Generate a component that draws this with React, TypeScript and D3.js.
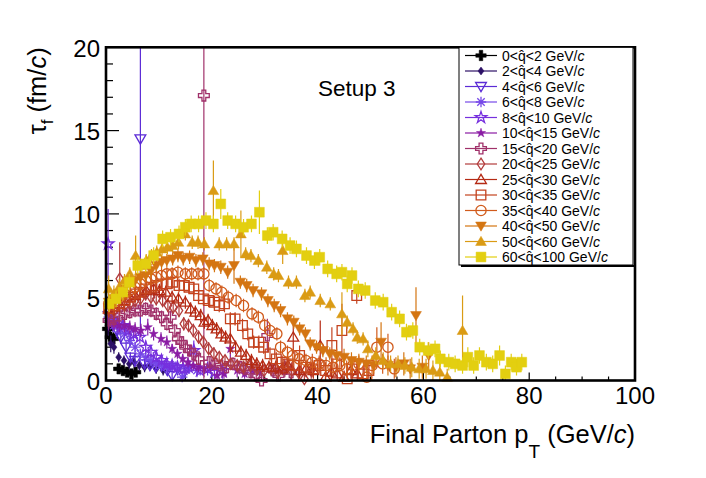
import * as d3 from 'd3'

// [pT (GeV/c), tau_f (fm/c), error]
type Pt = [number, number, number]

const q0_2: Pt[] = [
  [0.3, 3.1, 0.5], [0.8, 2.6, 0.4], [1.4, 2.5, 0.4], [2.4, 0.7, 0.2], [3.2, 0.6, 0.2],
  [4.0, 0.5, 0.2], [4.8, 0.4, 0.2], [5.6, 0.5, 0.2],
]

const q2_4: Pt[] = [
  [0.4, 3.3, 0.6], [0.9, 2.2, 0.5], [1.5, 2.0, 0.4], [2.4, 1.4, 0.3], [3.4, 1.2, 0.3],
  [4.4, 1.0, 0.3], [5.3, 1.1, 0.3], [6.3, 0.9, 0.3], [7.3, 0.8, 0.3], [8.4, 0.9, 0.3],
  [9.5, 0.7, 0.3], [10.8, 0.6, 0.3],
]

const q4_6: Pt[] = [
  [0.5, 3.9, 0.6], [1.3, 3.4, 0.5], [2.1, 3.0, 0.5], [2.8, 2.6, 0.4], [3.8, 2.0, 0.4],
  [4.6, 1.4, 0.3], [5.5, 1.2, 0.4], [6.5, 14.5, 11.9], [7.3, 1.0, 0.3], [8.3, 0.9, 0.3],
  [9.4, 0.8, 0.3], [10.5, 0.9, 0.4], [11.6, 0.6, 0.3], [12.5, 0.3, 0.3], [13.5, 0.7, 0.4],
  [14.8, 0.5, 0.3],
]

const q6_8: Pt[] = [
  [0.5, 3.8, 0.5], [1.5, 3.3, 0.4], [2.5, 3.1, 0.4], [3.5, 2.8, 0.4], [4.5, 2.4, 0.4],
  [5.5, 2.0, 0.3], [6.5, 1.6, 0.3], [7.5, 1.4, 0.3], [8.5, 1.2, 0.3], [9.5, 1.0, 0.3],
  [10.5, 0.9, 0.3], [11.5, 0.8, 0.3], [12.5, 0.9, 0.3], [13.5, 0.7, 0.3], [14.4, 0.2, 0.3],
  [15.8, 0.8, 0.4], [17.2, 0.6, 0.4],
]

const q8_10: Pt[] = [
  [0.4, 8.2, 2.1], [1.3, 3.6, 0.5], [2.2, 3.4, 0.5], [3.2, 3.3, 0.4], [4.2, 3.0, 0.4],
  [5.2, 2.8, 0.4], [6.4, 2.6, 0.4], [7.5, 2.0, 0.4], [8.5, 1.7, 0.3], [9.5, 1.4, 0.3],
  [10.5, 1.2, 0.3], [11.5, 1.0, 0.3], [12.5, 0.9, 0.3], [13.5, 0.8, 0.3], [14.6, 0.7, 0.3],
  [15.6, 0.8, 0.4], [16.6, 1.8, 0.6], [17.8, 0.6, 0.3], [19.2, 0.7, 0.4], [20.5, 0.5, 0.4],
  [22.0, 0.6, 0.5],
]

const q10_15: Pt[] = [
  [0.5, 3.5, 0.5], [1.5, 3.4, 0.4], [2.5, 3.3, 0.4], [3.5, 3.3, 0.4], [4.5, 3.2, 0.4],
  [5.5, 3.1, 0.4], [6.6, 3.0, 0.4], [7.9, 3.2, 0.5], [9.0, 2.8, 0.4], [10.4, 2.5, 0.4],
  [11.5, 2.3, 0.4], [12.5, 1.9, 0.3], [13.5, 1.6, 0.3], [14.5, 1.3, 0.3], [15.5, 1.1, 0.3],
  [16.5, 0.9, 0.3], [17.5, 0.8, 0.3], [18.6, 0.7, 0.3], [19.8, 0.8, 0.3], [21.0, 0.3, 0.3],
  [22.3, 0.4, 0.3], [23.5, 1.9, 0.8], [24.8, 0.6, 0.4], [26.2, 0.4, 0.3], [27.6, 0.6, 0.4],
  [29.0, 0.5, 0.4],
]

const q15_20: Pt[] = [
  [0.5, 3.6, 0.5], [1.5, 3.7, 0.5], [2.5, 3.9, 0.5], [3.5, 4.0, 0.5], [4.5, 4.1, 0.4],
  [5.5, 4.2, 0.4], [6.5, 4.2, 0.4], [7.5, 4.3, 0.4], [8.5, 4.2, 0.4], [9.5, 4.0, 0.4],
  [10.5, 3.8, 0.4], [11.5, 3.4, 0.4], [12.2, 3.8, 0.4], [13.0, 3.0, 0.4], [13.6, 2.5, 0.3],
  [14.3, 2.3, 0.3], [15.0, 2.0, 0.3], [15.8, 1.8, 0.3], [16.6, 1.6, 0.3], [17.5, 1.3, 0.3],
  [18.5, 17.1, 17.0], [19.5, 1.1, 0.3], [20.6, 1.0, 0.3], [21.7, 0.9, 0.3], [22.8, 0.8, 0.3],
  [24.0, 1.0, 0.4], [25.3, 0.8, 0.4], [26.3, 0.7, 0.4], [27.4, 0.5, 0.4], [28.4, 0.3, 0.3],
  [29.4, 0.0, 0.3], [30.5, 2.7, 1.0], [31.6, 0.6, 0.4], [32.6, 0.3, 0.4], [33.8, 0.7, 0.5],
  [35.0, 0.5, 0.5],
]

const q20_25: Pt[] = [
  [0.5, 4.3, 0.5], [1.5, 4.2, 0.5], [2.6, 6.1, 2.2], [3.5, 4.5, 0.4], [4.5, 4.6, 0.4],
  [5.5, 4.8, 0.4], [6.5, 4.9, 0.4], [7.5, 5.2, 0.4], [8.5, 5.0, 0.4], [9.5, 4.9, 0.4],
  [10.7, 4.8, 0.4], [11.7, 4.5, 0.4], [12.7, 4.4, 0.4], [13.8, 4.2, 0.4], [14.7, 3.4, 0.4],
  [15.6, 3.3, 0.4], [16.5, 3.0, 0.4], [17.5, 2.6, 0.4], [18.4, 2.3, 0.4], [19.4, 1.9, 0.4],
  [20.4, 1.6, 0.4], [21.4, 1.4, 0.3], [22.5, 1.2, 0.3], [23.6, 1.0, 0.3], [24.8, 0.9, 0.3],
  [26.0, 0.8, 0.3], [27.3, 0.9, 0.4], [28.6, 0.7, 0.4], [29.9, 0.6, 0.4], [31.2, 0.7, 0.4],
  [32.5, 0.5, 0.4], [33.8, 0.8, 0.5], [35.1, 0.6, 0.5], [36.4, 0.5, 0.5], [37.5, 0.1, 0.4],
  [38.8, 0.6, 0.5],
]

const q25_30: Pt[] = [
  [0.5, 4.3, 0.5], [1.5, 4.4, 0.5], [2.5, 4.6, 0.4], [3.5, 4.8, 0.4], [4.5, 5.0, 0.4],
  [5.5, 5.1, 0.4], [6.5, 5.3, 0.4], [7.6, 5.4, 0.4], [9.0, 5.5, 0.4], [10.1, 5.4, 0.4],
  [11.3, 5.3, 0.4], [12.5, 5.0, 0.4], [13.7, 4.9, 0.4], [15.0, 4.7, 0.4], [16.0, 4.3, 0.4],
  [16.9, 4.1, 0.4], [17.9, 3.9, 0.4], [18.6, 3.5, 0.4], [19.3, 3.6, 0.4], [20.1, 3.3, 0.4],
  [20.9, 3.1, 0.4], [21.8, 2.8, 0.4], [22.6, 2.6, 0.4], [23.5, 2.5, 0.9], [24.5, 2.0, 0.4],
  [25.5, 1.7, 0.4], [26.5, 1.5, 0.4], [27.5, 1.2, 0.4], [28.5, 1.0, 0.4], [29.6, 0.9, 0.4],
  [30.8, 0.8, 0.4], [32.1, 0.8, 0.4], [33.3, 0.7, 0.4], [34.4, 0.9, 0.5], [35.4, 2.6, 1.0],
  [36.6, 0.6, 0.5], [37.8, 0.7, 0.5], [39.2, 0.6, 0.5], [40.5, 2.1, 1.5], [41.5, 0.2, 0.4],
  [42.6, 0.5, 0.5], [43.7, 0.4, 0.5], [45.0, 0.2, 0.4], [46.3, 0.6, 0.5], [47.5, 0.4, 0.5],
]

const q30_35: Pt[] = [
  [0.5, 4.3, 0.5], [1.5, 4.5, 0.5], [2.5, 4.6, 0.4], [3.5, 4.8, 0.4], [4.5, 5.0, 0.4],
  [5.5, 5.2, 0.4], [6.5, 5.3, 0.4], [7.5, 5.5, 0.4], [8.5, 5.6, 0.4], [9.5, 5.7, 0.4],
  [10.5, 5.8, 0.4], [11.5, 5.8, 0.4], [12.6, 5.9, 0.4], [13.8, 5.7, 0.4], [14.8, 5.7, 0.4],
  [15.7, 5.6, 0.4], [16.6, 5.5, 0.4], [17.5, 5.1, 0.4], [18.4, 4.9, 0.4], [19.4, 4.8, 0.4],
  [20.5, 4.7, 0.4], [21.4, 4.5, 0.4], [22.4, 4.6, 0.5], [23.5, 3.7, 0.4], [24.4, 3.7, 0.4],
  [25.8, 3.3, 0.4], [26.8, 2.8, 0.4], [27.9, 2.3, 0.4], [28.9, 2.3, 0.4], [29.8, 2.0, 0.4],
  [31.0, 1.6, 0.4], [32.2, 1.3, 0.4], [33.3, 1.1, 0.4], [34.4, 1.0, 0.4], [35.5, 0.9, 0.4],
  [36.6, 1.5, 0.6], [37.8, 0.8, 0.4], [39.1, 0.7, 0.5], [40.3, 0.9, 0.5], [41.5, 0.6, 0.5],
  [42.7, 2.1, 1.1], [43.6, 1.0, 0.5], [44.6, 3.0, 1.6], [45.6, 0.1, 0.4], [46.5, 0.7, 0.5],
  [47.4, 5.1, 0.5], [48.6, 0.4, 0.5], [49.7, 0.6, 0.5],
]

const q35_40: Pt[] = [
  [0.5, 4.6, 0.5], [1.5, 4.7, 0.5], [2.5, 5.0, 0.4], [3.5, 5.2, 0.4], [4.5, 5.4, 0.4],
  [5.5, 5.6, 0.4], [6.5, 5.8, 0.4], [7.5, 6.0, 0.4], [8.5, 6.1, 0.4], [9.5, 6.2, 0.4],
  [10.5, 6.3, 0.4], [11.5, 6.4, 0.4], [12.5, 6.4, 0.4], [13.6, 6.5, 0.4], [15.0, 6.4, 0.4],
  [16.2, 6.4, 0.4], [17.4, 6.4, 0.4], [18.5, 6.4, 0.4], [19.5, 5.7, 0.4], [20.8, 5.5, 0.4],
  [21.9, 5.3, 0.4], [23.1, 5.0, 0.4], [24.6, 4.8, 0.4], [26.0, 4.5, 0.4], [27.6, 4.0, 0.4],
  [28.8, 3.8, 0.4], [30.0, 3.3, 0.4], [31.0, 3.0, 0.4], [32.3, 2.8, 0.4], [33.0, 2.0, 0.4],
  [34.3, 1.7, 0.4], [35.3, 1.5, 0.4], [36.5, 1.3, 0.4], [37.8, 1.2, 0.4], [39.0, 1.1, 0.5],
  [40.3, 1.0, 0.5], [41.6, 0.9, 0.5], [42.9, 0.8, 0.5], [44.2, 0.9, 0.5], [45.5, 0.7, 0.5],
  [46.6, 0.9, 0.5], [47.8, 1.0, 0.5], [49.3, 0.2, 0.4], [50.3, 0.9, 0.6], [51.2, 2.0, 1.2],
  [52.3, 1.0, 0.6], [53.3, 2.0, 0.8], [54.5, 0.7, 0.6],
]

const q40_50: Pt[] = [
  [0.5, 4.7, 0.5], [1.5, 4.9, 0.5], [2.5, 5.2, 0.4], [3.5, 5.5, 0.4], [4.5, 5.9, 0.4],
  [5.5, 6.0, 0.4], [6.5, 6.2, 0.4], [7.5, 6.3, 0.4], [8.5, 6.6, 0.4], [9.5, 6.9, 0.4],
  [10.5, 7.1, 0.4], [11.5, 7.2, 0.4], [12.6, 7.3, 0.4], [13.6, 7.5, 0.4], [14.6, 7.3, 0.4],
  [15.8, 7.4, 0.4], [17.0, 7.2, 0.4], [18.3, 7.3, 0.4], [19.5, 7.0, 0.4], [20.5, 6.9, 0.4],
  [21.7, 6.8, 0.4], [23.0, 6.5, 0.4], [24.2, 6.9, 1.1], [25.4, 5.9, 0.4], [26.6, 5.7, 0.4],
  [27.8, 5.4, 0.4], [29.4, 5.2, 0.4], [30.6, 4.8, 0.4], [31.8, 4.5, 0.4], [33.0, 4.2, 0.4],
  [34.3, 3.7, 0.4], [35.5, 3.5, 0.4], [36.6, 3.1, 0.4], [37.7, 2.8, 0.4], [38.6, 2.2, 0.4],
  [39.8, 2.0, 0.4], [41.0, 1.8, 0.4], [42.3, 1.6, 0.4], [43.6, 1.5, 0.4], [45.0, 1.4, 0.5],
  [46.4, 1.2, 0.5], [47.8, 1.1, 0.5], [49.2, 1.0, 0.5], [50.6, 0.9, 0.5], [52.0, 2.3, 1.2],
  [53.3, 0.9, 0.6], [54.8, 0.8, 0.6], [56.3, 1.0, 0.7], [57.5, 0.7, 0.6], [58.6, 3.9, 1.7],
  [59.8, 0.8, 0.7], [61.0, 1.5, 0.8],
]

const q50_60: Pt[] = [
  [0.5, 5.5, 0.8], [1.5, 5.2, 0.5], [2.5, 5.6, 0.5], [3.5, 6.0, 0.4], [4.5, 6.4, 0.4],
  [5.6, 7.5, 1.2], [6.6, 6.9, 0.4], [7.6, 7.2, 0.4], [8.6, 7.5, 0.4], [9.6, 7.7, 0.4],
  [10.6, 7.9, 0.4], [11.6, 8.0, 0.4], [12.6, 8.1, 0.4], [13.7, 8.3, 0.4], [15.0, 8.8, 0.4],
  [16.3, 8.3, 0.4], [17.4, 8.3, 0.4], [18.6, 8.2, 0.4], [20.3, 11.4, 1.8], [21.4, 8.2, 0.4],
  [22.8, 8.2, 0.4], [24.2, 8.2, 0.4], [25.5, 8.8, 1.4], [26.4, 7.6, 0.4], [27.4, 7.5, 0.4],
  [28.8, 7.2, 0.4], [30.4, 6.8, 0.4], [31.7, 6.4, 0.4], [32.6, 6.3, 0.4], [33.4, 7.8, 0.8],
  [34.5, 5.9, 0.4], [36.0, 5.9, 0.4], [37.6, 5.1, 0.4], [38.6, 5.3, 0.4], [40.5, 4.8, 0.4],
  [42.4, 4.6, 0.4], [44.6, 4.0, 1.3], [45.6, 3.5, 0.4], [46.7, 3.1, 0.4], [47.5, 2.6, 0.4],
  [48.6, 2.5, 0.4], [49.5, 1.9, 0.5], [51.0, 1.5, 0.5], [52.4, 1.2, 0.5], [53.8, 1.0, 0.5],
  [55.2, 1.0, 0.5], [56.5, 0.9, 0.5], [57.8, 0.8, 0.6], [59.2, 0.7, 0.6], [60.5, 0.7, 0.6],
  [61.8, 0.6, 0.6], [63.1, 0.5, 0.6], [64.5, 0.2, 0.5], [67.4, 3.0, 2.1],
]

const q60_100: Pt[] = [
  [0.6, 4.6, 0.5], [1.9, 4.9, 0.5], [3.2, 5.3, 0.5], [4.4, 5.9, 0.5], [6.0, 6.9, 0.5],
  [7.5, 7.0, 0.5], [9.0, 7.5, 0.5], [10.7, 8.5, 0.5], [12.2, 8.6, 0.5], [13.8, 8.8, 0.5],
  [15.0, 9.2, 0.5], [16.1, 9.4, 0.5], [17.5, 9.4, 0.5], [18.9, 9.6, 0.5], [20.3, 9.4, 0.5],
  [21.7, 10.6, 0.9], [23.0, 9.6, 0.5], [24.5, 9.4, 0.5], [26.0, 9.2, 0.5], [27.5, 9.4, 0.5],
  [29.0, 10.1, 1.3], [30.5, 8.7, 0.5], [31.6, 8.9, 0.5], [33.3, 8.5, 0.5], [34.8, 8.1, 0.5],
  [36.0, 7.9, 0.5], [37.9, 7.5, 0.5], [39.4, 7.2, 0.5], [40.4, 7.4, 0.5], [41.9, 6.7, 0.5],
  [43.6, 6.4, 0.5], [44.6, 6.5, 0.5], [45.6, 5.8, 0.5], [46.5, 6.3, 0.5], [47.7, 5.5, 0.5],
  [49.0, 5.4, 0.5], [50.9, 4.8, 0.5], [52.4, 4.7, 0.5], [54.0, 4.1, 0.5], [55.5, 3.7, 0.5],
  [56.8, 2.9, 0.5], [58.0, 3.0, 0.5], [59.3, 2.0, 0.5], [60.9, 1.8, 0.5], [62.2, 1.9, 0.5],
  [63.2, 1.3, 0.5], [64.8, 1.1, 0.5], [66.0, 1.0, 0.5], [67.4, 0.9, 0.5], [68.4, 1.4, 0.6],
  [69.5, 0.9, 0.5], [70.6, 1.5, 0.5], [71.9, 1.1, 0.5], [73.1, 1.0, 0.5], [74.4, 1.5, 0.6],
  [75.5, 0.4, 0.5], [76.6, 1.1, 0.5], [77.6, 0.8, 0.5], [78.6, 1.1, 0.5],
]

const qRanges = [
  ['0', '2'], ['2', '4'], ['4', '6'], ['6', '8'], ['8', '10'], ['10', '15'], ['15', '20'],
  ['20', '25'], ['25', '30'], ['30', '35'], ['35', '40'], ['40', '50'], ['50', '60'], ['60', '100'],
]

const seriesData = [
  q0_2, q2_4, q4_6, q6_8, q8_10, q10_15, q15_20,
  q20_25, q25_30, q30_35, q35_40, q40_50, q50_60, q60_100,
]

const colors = [
  '#000000', '#2c1066', '#5b2bd6', '#7648e8', '#7630de', '#8a1ca4', '#a0316a',
  '#b23c3c', '#b52a14', '#c4431f', '#d15b1c', '#d47512', '#da9b14', '#e3cf10',
]

type MarkerKind =
  | 'crossFilled' | 'diamondSmall' | 'triDownOpen' | 'asterisk' | 'starOpen' | 'starSmall'
  | 'crossOpen' | 'diamondOpen' | 'triUpOpen' | 'squareOpen' | 'circleOpen'
  | 'triDown' | 'triUp' | 'square'

const markers: MarkerKind[] = [
  'crossFilled', 'diamondSmall', 'triDownOpen', 'asterisk', 'starOpen', 'starSmall', 'crossOpen',
  'diamondOpen', 'triUpOpen', 'squareOpen', 'circleOpen', 'triDown', 'triUp', 'square',
]

const starBig = d3.symbol(d3.symbolStar, 42)()
const starLittle = d3.symbol(d3.symbolStar, 26)()
const circle = d3.symbol(d3.symbolCircle, 82)()

const shapes: Record<MarkerKind, { d: string; filled: boolean }> = {
  crossFilled: { d: 'M-1.8,-5.2H1.8V-1.8H5.2V1.8H1.8V5.2H-1.8V1.8H-5.2V-1.8H-1.8Z', filled: true },
  diamondSmall: { d: 'M0,-4L3,0L0,4L-3,0Z', filled: true },
  triDownOpen: { d: 'M-5.4,-4L5.4,-4L0,5.2Z', filled: false },
  asterisk: { d: 'M-5.2,0H5.2M0,-5.2V5.2M-3.7,-3.7L3.7,3.7M-3.7,3.7L3.7,-3.7', filled: false },
  starOpen: { d: starBig ?? '', filled: false },
  starSmall: { d: starLittle ?? '', filled: true },
  crossOpen: { d: 'M-1.9,-5.4H1.9V-1.9H5.4V1.9H1.9V5.4H-1.9V1.9H-5.4V-1.9H-1.9Z', filled: false },
  diamondOpen: { d: 'M0,-5.8L3.7,0L0,5.8L-3.7,0Z', filled: false },
  triUpOpen: { d: 'M-5.4,4L5.4,4L0,-5.2Z', filled: false },
  squareOpen: { d: 'M-4.8,-4.8H4.8V4.8H-4.8Z', filled: false },
  circleOpen: { d: circle ?? '', filled: false },
  triDown: { d: 'M-5.4,-4L5.4,-4L0,5.2Z', filled: true },
  triUp: { d: 'M-5.4,4L5.4,4L0,-5.2Z', filled: true },
  square: { d: 'M-4.9,-4.9H4.9V4.9H-4.9Z', filled: true },
}

const font = 'Liberation Sans, Arial, Helvetica, sans-serif'

function Marker({ kind, cx, cy, color }: { kind: MarkerKind; cx: number; cy: number; color: string }) {
  const shape = shapes[kind]
  return (
    <path
      d={shape.d}
      transform={`translate(${cx},${cy})`}
      fill={shape.filled ? color : 'none'}
      stroke={color}
      strokeWidth={shape.filled ? 0.5 : 1.3}
    />
  )
}

export default function App() {
  const width = 706
  const height = 478
  const x = d3.scaleLinear().domain([0, 100]).range([106, 635])
  const y = d3.scaleLinear().domain([0, 20]).range([380.5, 47.3])
  const [x0, x1] = x.range()
  const [y0, y1] = y.range()
  const xMajor = x.ticks(5)
  const xMinor = d3.range(0, 101, 5)
  const yMajor = y.ticks(4)
  const yMinor = d3.range(0, 21, 1)

  const legendLeft = 459
  const legendTop = y1
  const legendRow = 15.5
  const legendBottom = 265

  return (
    <svg
      width={width}
      height={height}
      viewBox={`0 0 ${width} ${height}`}
      style={{ position: 'absolute', left: 0, top: 0, background: '#fff' }}
      fontFamily={font}
    >
      <defs>
        <clipPath id="frame">
          <rect x={x0} y={y1} width={x1 - x0} height={y0 - y1} />
        </clipPath>
      </defs>

      {/* ticks */}
      {yMinor.map((t) => (
        <line key={`ym${t}`} x1={x0} x2={x0 + (t % 5 === 0 ? 13 : 7)} y1={y(t)} y2={y(t)} stroke="#000" strokeWidth={1.2} />
      ))}
      {xMinor.map((t) => (
        <line key={`xm${t}`} x1={x(t)} x2={x(t)} y1={y0} y2={y0 - (t % 20 === 0 ? 8 : 4)} stroke="#000" strokeWidth={1.2} />
      ))}

      {/* data */}
      {seriesData.map((data, si) => (
        <g key={si}>
          <g clipPath="url(#frame)">
            {data.map(([pt, tau, err], i) => (
              <line
                key={i}
                x1={x(pt)}
                x2={x(pt)}
                y1={y(tau - err)}
                y2={y(tau + err)}
                stroke={colors[si]}
                strokeWidth={1.2}
              />
            ))}
          </g>
          {data.map(([pt, tau], i) => (
            <Marker key={i} kind={markers[si]} cx={x(pt)} cy={y(tau)} color={colors[si]} />
          ))}
        </g>
      ))}

      {/* frame */}
      <rect x={x0} y={y1} width={x1 - x0} height={y0 - y1} fill="none" stroke="#000" strokeWidth={2.6} />

      {/* tick labels */}
      {yMajor.map((t) => (
        <text key={`yl${t}`} x={100} y={y(t) + 9.5} textAnchor="end" fontSize={24} fill="#000">
          {t}
        </text>
      ))}
      {xMajor.map((t) => (
        <text key={`xl${t}`} x={x(t)} y={404} textAnchor="middle" fontSize={24} fill="#000">
          {t}
        </text>
      ))}

      {/* axis titles */}
      <text x={x1} y={443} textAnchor="end" fontSize={25.5} fill="#000">
        Final Parton p
        <tspan fontSize={19} dy={15}>T</tspan>
        <tspan dy={-15}> (GeV/</tspan>
        <tspan fontStyle="italic">c</tspan>)
      </text>
      <text transform={`translate(46,${y1}) rotate(-90)`} textAnchor="end" fontSize={25.5} fill="#000">
        τ<tspan fontSize={17} dy={7}>f</tspan>
        <tspan dy={-7}> (fm/</tspan>
        <tspan fontStyle="italic">c</tspan>)
      </text>

      <text x={318} y={96} fontSize={22.5} fill="#000">
        Setup 3
      </text>

      {/* legend */}
      <line x1={legendLeft + 2} x2={x1} y1={legendBottom + 1} y2={legendBottom + 1} stroke="#000" strokeWidth={2} />
      <rect
        x={legendLeft}
        y={legendTop}
        width={x1 - 2 - legendLeft}
        height={legendBottom - legendTop}
        fill="#fff"
        stroke="#000"
        strokeWidth={1}
      />
      {qRanges.map(([lo, hi], i) => {
        const cy = 55.5 + i * legendRow
        return (
          <g key={`lg${i}`}>
            <line x1={465} x2={497} y1={cy} y2={cy} stroke={colors[i]} strokeWidth={1.2} />
            <Marker kind={markers[i]} cx={481} cy={cy} color={colors[i]} />
            <text x={502} y={cy + 5} fontSize={14} fill="#000">
              {`${lo}<q\u0302<${hi} GeV/`}
              <tspan fontStyle="italic">c</tspan>
            </text>
          </g>
        )
      })}
    </svg>
  )
}
